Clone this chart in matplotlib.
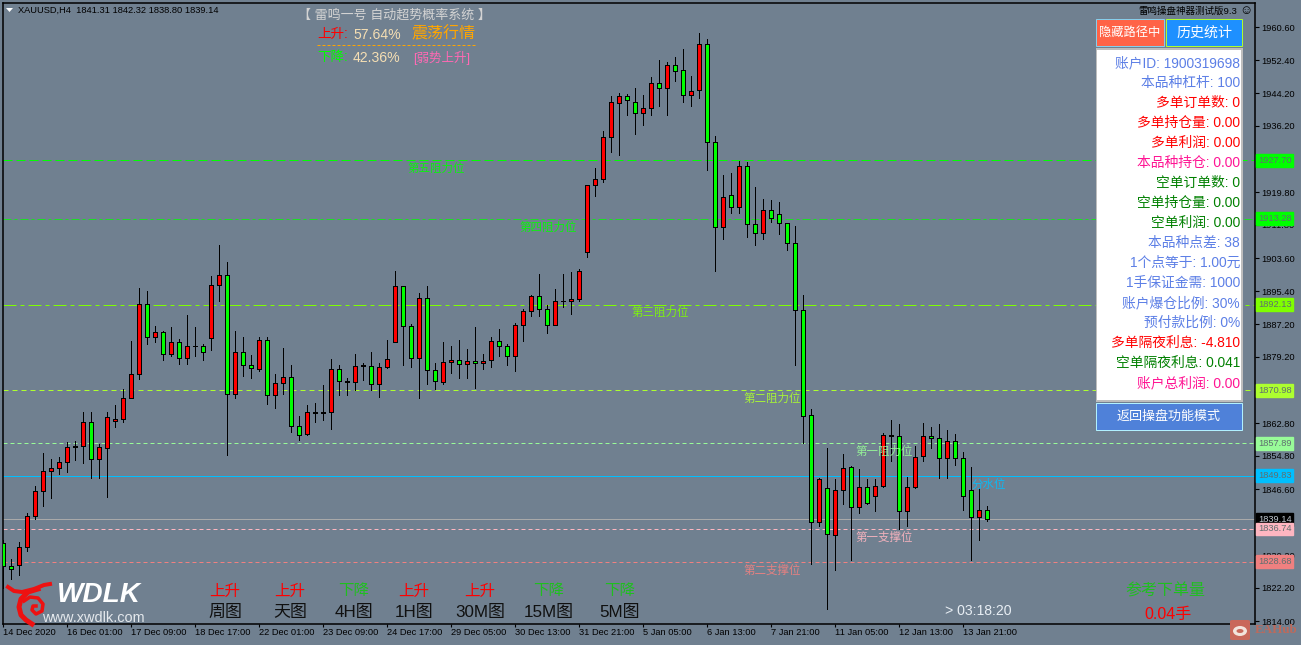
import numpy as np
from matplotlib import pyplot as plt
from matplotlib.lines import Line2D
from matplotlib.patches import Rectangle, FancyBboxPatch, Ellipse

plt.rcParams['font.family'] = ['Liberation Sans', 'Noto Sans CJK SC', 'DejaVu Sans']

W, H = 1301, 645
BG = '#708090'

# XAUUSD H4 candles
opens = [1833.3, 1827.6, 1827.9, 1832.3, 1840.0, 1846.2, 1851.1, 1851.8, 1853.3, 1857.0,
         1857.2, 1863.2, 1854.0, 1856.8, 1863.4, 1863.9, 1869.1, 1875.0, 1892.2, 1884.2,
         1885.4, 1880.0, 1882.9, 1879.0, 1881.9, 1881.9, 1883.9, 1897.0, 1899.4, 1870.1,
         1880.4, 1877.2, 1876.3, 1883.4, 1869.8, 1872.8, 1874.3, 1862.2, 1860.2, 1865.6,
         1865.6, 1865.6, 1876.3, 1873.2, 1873.0, 1877.2, 1877.0, 1872.5, 1876.7, 1882.8,
         1896.7, 1886.9, 1878.9, 1893.8, 1876.0, 1873.0, 1877.9, 1878.5, 1877.4, 1878.2,
         1877.7, 1878.4, 1883.2, 1881.9, 1879.4, 1887.1, 1890.5, 1894.3, 1891.0, 1887.0,
         1893.0, 1893.0, 1893.5, 1905.1, 1921.7, 1923.1, 1933.5, 1941.9, 1943.6, 1942.1,
         1939.4, 1940.7, 1946.8, 1945.6, 1951.3, 1950.0, 1943.9, 1945.1, 1956.5, 1932.3,
         1911.3, 1919.2, 1916.2, 1926.3, 1912.0, 1909.8, 1915.5, 1914.5, 1912.3, 1907.3,
         1890.8, 1864.9, 1838.5, 1846.9, 1835.3, 1846.4, 1852.1, 1842.2, 1847.1, 1844.9,
         1847.4, 1860.0, 1859.7, 1841.2, 1847.0, 1854.8, 1859.7, 1859.2, 1854.3, 1858.5,
         1854.3, 1846.4, 1839.7, 1841.31]
highs = [1834.1, 1829.4, 1833.6, 1840.7, 1847.4, 1855.4, 1853.9, 1854.5, 1858.2, 1858.5,
         1865.5, 1865.7, 1857.7, 1865.7, 1867.4, 1871.3, 1883.2, 1896.2, 1895.5, 1886.9,
         1885.6, 1886.6, 1883.5, 1889.6, 1886.6, 1882.4, 1899.2, 1906.7, 1902.7, 1885.6,
         1884.2, 1879.7, 1884.2, 1884.2, 1875.0, 1881.4, 1877.2, 1864.7, 1867.4, 1867.9,
         1872.3, 1878.6, 1877.3, 1874.0, 1880.0, 1877.7, 1880.5, 1877.7, 1883.4, 1900.3,
         1896.7, 1887.4, 1895.0, 1896.6, 1877.7, 1882.8, 1882.0, 1883.4, 1881.2, 1886.5,
         1880.0, 1884.2, 1886.1, 1882.4, 1887.6, 1891.1, 1894.5, 1899.7, 1892.0, 1896.0,
         1899.7, 1900.2, 1900.9, 1921.7, 1925.7, 1935.0, 1943.6, 1944.4, 1944.1, 1945.6,
         1943.9, 1948.3, 1952.5, 1952.0, 1953.1, 1955.2, 1948.6, 1959.2, 1957.7, 1933.7,
         1924.1, 1924.6, 1927.6, 1927.3, 1921.2, 1918.2, 1918.0, 1917.5, 1912.3, 1911.5,
         1894.5, 1866.4, 1849.4, 1856.6, 1849.1, 1855.3, 1852.3, 1851.6, 1849.1, 1849.1,
         1860.5, 1863.7, 1862.7, 1849.6, 1857.3, 1862.9, 1861.9, 1862.7, 1861.2, 1860.2,
         1855.8, 1852.1, 1846.9, 1842.32]
lows = [1822.2, 1824.3, 1825.3, 1831.3, 1839.2, 1842.4, 1844.5, 1850.4, 1850.8, 1853.7,
        1853.0, 1849.3, 1849.3, 1844.6, 1861.8, 1863.1, 1869.1, 1873.8, 1882.3, 1882.8,
        1878.4, 1879.4, 1877.4, 1877.4, 1879.4, 1878.4, 1881.0, 1893.0, 1854.9, 1869.0,
        1874.4, 1874.0, 1875.7, 1867.7, 1866.5, 1870.0, 1860.6, 1858.7, 1859.9, 1863.1,
        1863.6, 1861.3, 1869.8, 1869.8, 1871.0, 1873.6, 1871.0, 1869.3, 1876.4, 1882.8,
        1877.2, 1876.8, 1869.0, 1872.4, 1871.2, 1872.5, 1875.2, 1874.1, 1874.1, 1871.5,
        1876.3, 1876.8, 1879.5, 1877.3, 1875.8, 1883.2, 1889.2, 1889.4, 1885.2, 1887.0,
        1891.6, 1889.9, 1893.1, 1903.8, 1918.9, 1922.3, 1929.7, 1929.1, 1939.0, 1934.1,
        1936.5, 1938.8, 1941.2, 1938.8, 1947.4, 1942.0, 1941.2, 1943.2, 1925.2, 1900.5,
        1908.4, 1914.6, 1914.6, 1908.7, 1906.7, 1908.4, 1912.4, 1909.6, 1905.7, 1877.1,
        1858.0, 1828.0, 1837.4, 1816.9, 1826.7, 1842.8, 1829.0, 1840.6, 1843.0, 1841.1,
        1847.0, 1853.6, 1836.8, 1837.4, 1846.9, 1853.6, 1856.8, 1849.2, 1849.4, 1852.6,
        1841.5, 1829.0, 1833.9, 1838.80]
closes = [1827.7, 1826.9, 1832.3, 1840.0, 1846.2, 1851.1, 1851.8, 1853.3, 1857.0, 1857.2,
          1863.2, 1854.0, 1857.0, 1864.4, 1863.9, 1869.1, 1875.0, 1892.2, 1884.2, 1885.4,
          1880.0, 1882.9, 1879.0, 1881.9, 1881.9, 1880.4, 1897.0, 1899.4, 1870.1, 1880.4,
          1877.2, 1876.5, 1883.4, 1869.8, 1872.8, 1874.3, 1862.2, 1860.0, 1865.6, 1865.4,
          1865.4, 1876.3, 1873.2, 1873.0, 1877.0, 1877.0, 1872.5, 1876.7, 1878.7, 1896.7,
          1886.8, 1878.9, 1893.8, 1875.9, 1873.2, 1878.0, 1878.5, 1877.4, 1878.2, 1877.7,
          1878.2, 1883.2, 1881.8, 1879.4, 1887.1, 1890.6, 1894.3, 1891.0, 1887.0, 1893.0,
          1893.0, 1893.5, 1900.4, 1921.7, 1923.1, 1933.5, 1942.1, 1943.6, 1942.6, 1939.4,
          1940.7, 1946.8, 1945.6, 1951.3, 1949.8, 1943.9, 1944.9, 1956.5, 1932.3, 1911.3,
          1918.7, 1916.2, 1926.3, 1912.0, 1909.8, 1915.5, 1913.4, 1912.3, 1907.3, 1890.8,
          1864.7, 1838.5, 1849.1, 1835.5, 1846.4, 1851.8, 1842.2, 1847.1, 1843.2, 1847.4,
          1860.0, 1859.8, 1841.2, 1847.1, 1854.5, 1859.7, 1859.2, 1854.3, 1858.5, 1854.3,
          1844.9, 1839.7, 1841.5, 1839.14]

time_labels = ['14 Dec 2020', '16 Dec 01:00', '17 Dec 09:00', '18 Dec 17:00', '22 Dec 01:00',
               '23 Dec 09:00', '24 Dec 17:00', '29 Dec 05:00', '30 Dec 13:00', '31 Dec 21:00',
               '5 Jan 05:00', '6 Jan 13:00', '7 Jan 21:00', '11 Jan 05:00', '12 Jan 13:00',
               '13 Jan 21:00']
price_ticks = [1814.00, 1822.20, 1830.20, 1846.60, 1854.80, 1862.80, 1879.20, 1887.20,
               1895.40, 1903.60, 1911.80, 1919.80, 1936.20, 1944.20, 1952.40, 1960.60]

level_values = [1927.70, 1913.28, 1892.13, 1870.98, 1857.89, 1849.83, 1836.74, 1828.68]
level_colors = ['#00ff00', '#00ff00', '#7fff00', '#adff2f', '#98fb98', '#00bfff', '#ffb6c1', '#f08080']
level_dashes = [(9, 4, 9, 4), (8, 3, 3, 3), (13, 4, 4, 4), (5, 4), (4, 3), None, (4, 3), (4, 3)]
level_names = ['第五阻力位', '第四阻力位', '第三阻力位', '第二阻力位', '第一阻力位', '分水位', '第一支撑位', '第二支撑位']
level_name_x = [407, 519, 631, 743, 855, 971, 855, 743]
level_name_y = [168, 227, 312, 398, 451, 484, 537, 570]
last_price = 1839.14

panel_rows = ['账户ID: 1900319698', '本品种杠杆: 100', '多单订单数: 0', '多单持仓量: 0.00',
              '多单利润: 0.00', '本品种持仓: 0.00', '空单订单数: 0', '空单持仓量: 0.00',
              '空单利润: 0.00', '本品种点差: 38', '1个点等于: 1.00元', '1手保证金需: 1000',
              '账户爆仓比例: 30%', '预付款比例: 0%', '多单隔夜利息: -4.810', '空单隔夜利息: 0.041',
              '账户总利润: 0.00']
panel_colors = ['#5c7fe6', '#5c7fe6', '#ff0000', '#ff0000', '#ff0000', '#ff1493', '#008000',
                '#008000', '#008000', '#5c7fe6', '#5c7fe6', '#5c7fe6', '#5c7fe6', '#5c7fe6',
                '#ff0000', '#008000', '#ff1493']

period_names = ['周图', '天图', '4H图', '1H图', '30M图', '15M图', '5M图']
period_trend = ['上升', '上升', '下降', '上升', '上升', '下降', '下降']
period_x = [225, 290, 354, 414, 480, 549, 620]

PX = 0.72  # one pixel in points at dpi 100


def label(x, y, s, size, color, ha='left', **kw):
    """text placed by picture pixels"""
    return fig.text(x / W, 1 - y / H, s, fontsize=size * PX, color=color, ha=ha, va='center', **kw)


def box(x0, y0, x1, y1, face, edge='none', lw=1.0):
    r = Rectangle((x0 / W, 1 - y1 / H), (x1 - x0) / W, (y1 - y0) / H, transform=fig.transFigure,
                  facecolor=face, edgecolor=edge, linewidth=lw * PX, zorder=2)
    fig.add_artist(r)


def line(xs, ys, color, lw, **kw):
    xs = np.asarray(xs, dtype=float) / W
    ys = 1 - np.asarray(ys, dtype=float) / H
    fig.add_artist(Line2D(xs, ys, color=color, linewidth=lw * PX, transform=fig.transFigure, zorder=2,
                          **kw))


fig = plt.figure(figsize=(W / 100, H / 100), dpi=100, facecolor=BG)
ax = fig.add_axes([2.5 / W, 1 - 624 / H, (1255 - 2.5) / W, (624 - 3) / H], facecolor=BG)

# candles
index = np.arange(len(opens))
o = np.array(opens)
c = np.array(closes)
colors = ['#ff0000' if c[i] >= o[i] else '#00ff00' for i in index]
ax.vlines(index, lows, highs, color='black', linewidth=PX, antialiased=False, zorder=3)
ax.bar(index, np.abs(c - o), bottom=np.minimum(o, c), width=0.5, color=colors, edgecolor='black',
       linewidth=PX, antialiased=False, zorder=4)

# level lines and their boxes on the price scale
for value, col, dash in zip(level_values, level_colors, level_dashes):
    style = '-' if dash is None else (0, dash)
    ax.axhline(value, color=col, linewidth=PX, linestyle=style, zorder=2,
               alpha=0.75 if value == 1913.28 else 1)
    ax.text(1.0022, value, '%.2f' % value, transform=ax.get_yaxis_transform(), fontsize=6.7, color='#5f6f70',
            ha='left', va='center', clip_on=False, zorder=6,
            bbox=dict(facecolor=col, edgecolor=col, pad=1.4))
ax.axhline(last_price, color='#a9a9a9', linewidth=PX, zorder=2)
ax.text(1.0022, last_price, '%.2f' % last_price, transform=ax.get_yaxis_transform(), fontsize=6.7, color='#c0c8d0',
        ha='left', va='center', clip_on=False, zorder=5,
        bbox=dict(facecolor='black', edgecolor='black', pad=1.4))

# half a pixel off so that snapped lines land on the reference's pixel rows
ax.set_xlim(-0.0625, 156.5)
ax.set_ylim(1813.29, 1966.53)
ax.yaxis.tick_right()
ax.set_yticks(price_ticks)
ax.set_yticklabels(['%.2f' % p for p in price_ticks], fontsize=6.7, color='black')
ax.set_xticks(index[::8])
ax.set_xticklabels(time_labels, fontsize=6.7, color='black', ha='left')
ax.tick_params(axis='y', length=2.9, width=0.8, color='black', pad=1.4)
ax.tick_params(axis='x', length=2.2, width=0.8, color='black', pad=0.6)
for spine in ax.spines.values():
    spine.set_linewidth(1.1)
    spine.set_color('black')

# level names
for name, x, y, col in zip(level_names, level_name_x, level_name_y, level_colors):
    label(x, y, name, 11.5, col, alpha=0.9)

# header
fig.add_artist(plt.Polygon([(6 / W, 1 - 8 / H), (13 / W, 1 - 8 / H), (9.5 / W, 1 - 12 / H)], closed=True,
                           facecolor='white', edgecolor='none', transform=fig.transFigure))
label(18, 10, 'XAUUSD,H4  1841.31 1842.32 1838.80 1839.14', 9.3, 'black')
label(298, 15, '【 雷鸣一号 自动超势概率系统 】', 13, '#d3d3d3')
label(317, 34, '上升:', 13.5, '#ff0000')
label(353, 35, '57.64%', 14, '#f5deb3')
label(411, 34, '震荡行情', 16, '#ffa500')
line([317, 476], [45, 45], '#ffa500', 1, linestyle=(0, (3, 2)))
label(317, 57, '下降:', 13.5, '#00ff00')
label(353, 58, '42.36%', 14, '#f5deb3')
label(413, 58, '[弱势上升]', 12.5, '#ff69b4')

# account panel
label(1237, 11, '雷鸣操盘神器测试版9.3', 9.5, 'black', ha='right')
label(1239, 11, '☺', 13, 'black')
box(1096, 19, 1164, 46, '#ff6347', '#87ceeb')
label(1130, 33, '隐藏路径中', 12.3, 'white', ha='center')
box(1166, 19, 1242, 46, '#1e90ff', '#adff2f')
label(1204, 33, '历史统计', 14, 'white', ha='center')
box(1096, 48, 1243, 402, '#bdbdbd')
box(1097, 50, 1241, 400, 'white')
for k, (row, col) in enumerate(zip(panel_rows, panel_colors)):
    label(1240, 63 + 20 * k, row, 13.8, col, ha='right')
box(1096, 403, 1242, 430, '#4f81d9', '#b0f0ff')
label(1169, 417, '返回操盘功能模式', 13, 'white', ha='center')

# period table
for name, trend, x in zip(period_names, period_trend, period_x):
    label(x, 591, trend, 15.5, '#ff0000' if trend == '上升' else '#1fbf1f', ha='center')
    label(x, 612, name, 17, '#101010', ha='center')

label(945, 611, '> 03:18:20', 14, '#e8eef4')
label(1165, 591, '参考下单量', 16, '#1fbf1f', ha='center')
label(1168, 615, '0.04手', 16, '#ff0000', ha='center')

# WDLK mark
line([8, 14, 22, 34, 44, 50], [587, 591, 592, 589, 585, 584], '#ee1111', 4, solid_joinstyle='round')
line([38, 28, 21, 19, 21, 26, 32], [589, 592, 599, 607, 615, 620, 624], '#ee1111', 5, solid_joinstyle='round')
line([24, 30, 38, 43, 42, 36, 32, 33, 36], [601, 597, 598, 604, 611, 614, 610, 606, 606], '#ee1111', 3.5,
     solid_joinstyle='round')
label(57, 595, 'WDLK', 28, 'white', fontweight='bold', style='italic')
label(42, 618, 'www.xwdlk.com', 14.5, '#e4e8ec')

# EAHub mark
fig.add_artist(FancyBboxPatch((1230 / W, 1 - 640 / H), 20 / W, 20 / H, boxstyle='round,pad=0,rounding_size=0.002',
                              transform=fig.transFigure, facecolor='#c9685a', edgecolor='none'))
fig.add_artist(Ellipse((1240 / W, 1 - 631 / H), 14 / W, 10 / H, transform=fig.transFigure, facecolor='#f2e4dc',
                       edgecolor='none', zorder=2))
fig.add_artist(Ellipse((1240 / W, 1 - 631 / H), 7 / W, 4 / H, transform=fig.transFigure, facecolor='#c9685a',
                       edgecolor='none', zorder=2))
label(1255, 630, 'EAHub', 13, '#bc6a5c', family=['Liberation Serif'], fontweight='bold')

fig.savefig('out.png', dpi=100, facecolor=BG)
